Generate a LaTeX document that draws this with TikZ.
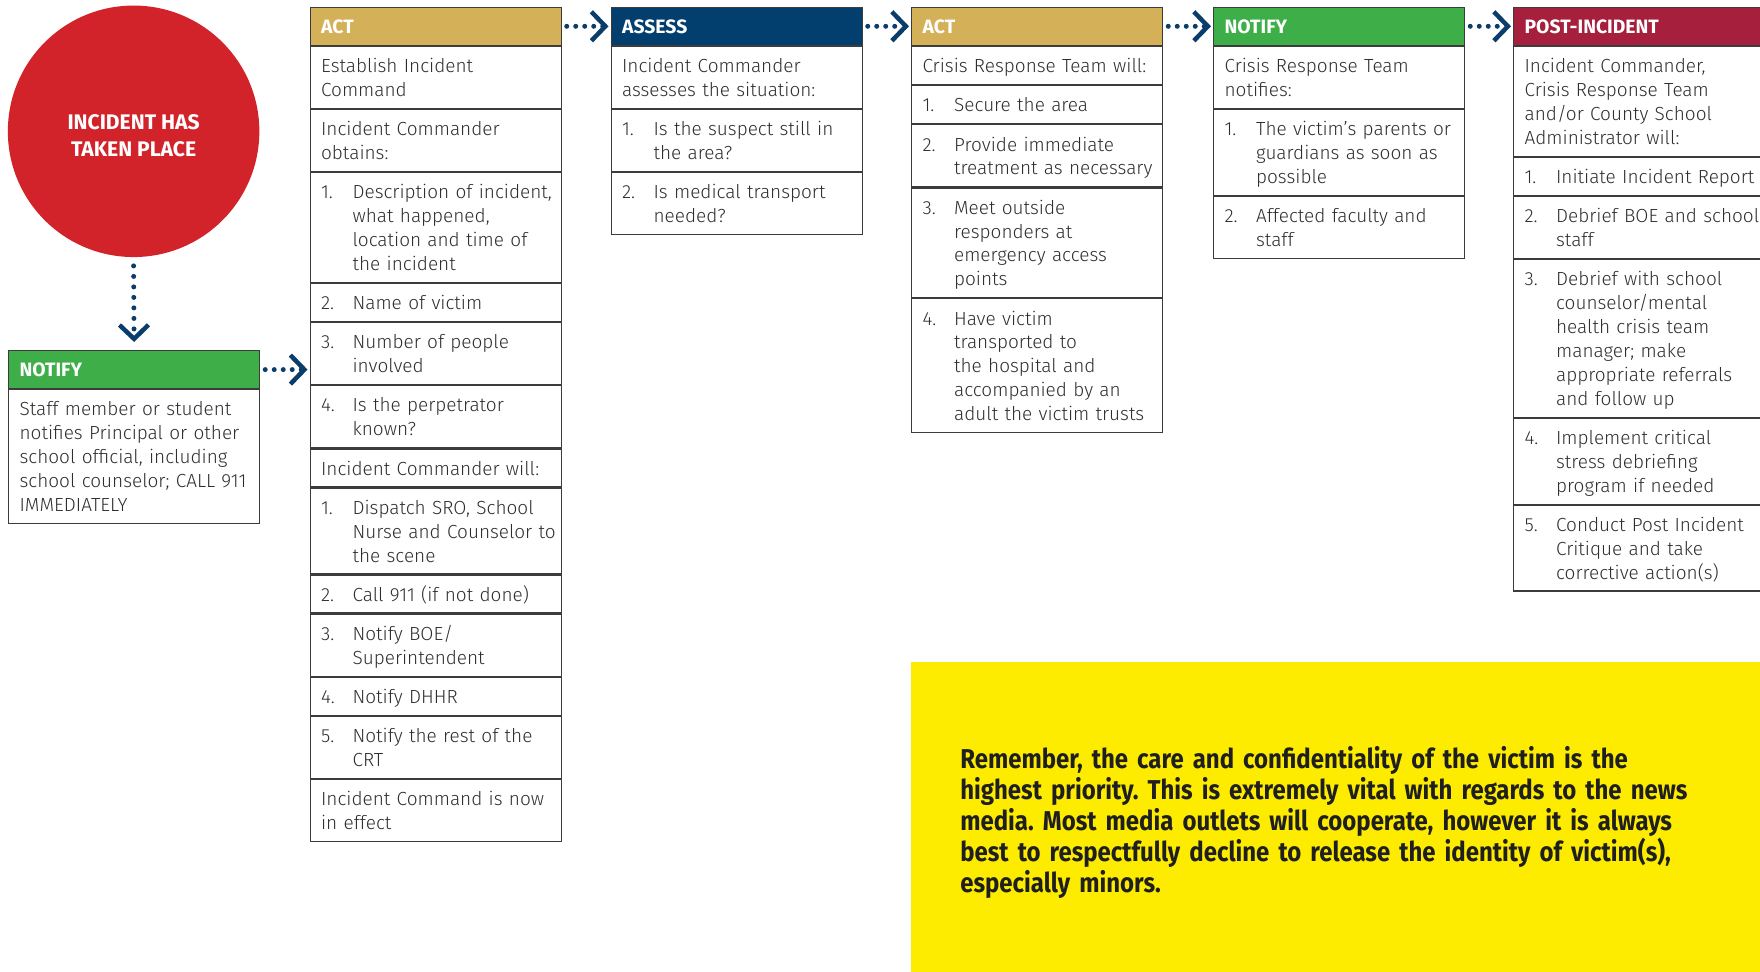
\documentclass[tikz,border=0pt]{standalone}
\usepackage{fontspec}
\setmainfont{Fira Sans}[UprightFont={* Light}, BoldFont={* Bold}]
\newfontfamily\notefont{Fira Sans}[FakeStretch=0.88]
\usetikzlibrary{arrows.meta,positioning}

\definecolor{actgold}{HTML}{D4B058}
\definecolor{assessblue}{HTML}{023F6E}
\definecolor{notifygreen}{HTML}{3EAE49}
\definecolor{postred}{HTML}{A6203E}
\definecolor{incidentred}{HTML}{D2232A}
\definecolor{noteyellow}{HTML}{FDEB00}
\definecolor{flownavy}{HTML}{0B3D6B}
\definecolor{rowgray}{HTML}{3C3C3C}
\definecolor{textgray}{HTML}{2E2E2E}

\newcommand{\rowstrut}{\rule[-0.2\baselineskip]{0pt}{\baselineskip}}
\newcommand{\numitem}[2]{\makebox[0.63cm][l]{#1}\parbox[t]{4.6cm}{\raggedright\rowstrut#2\rowstrut}}

\tikzset{
	stagerow/.style={draw=rowgray, line width=0.7pt, text width=4.58cm, inner xsep=0.22cm, inner ysep=4pt, align=left, text=textgray, font=\fontsize{10.8}{13.6}\selectfont, execute at begin node={\rightskip=-0.5cm plus 2em\rowstrut}, execute at end node=\rowstrut},
	stagehead/.style={stagerow, fill=#1, text=white, font=\fontsize{11}{13.6}\selectfont\bfseries},
	flowarrow/.style={draw=flownavy, line width=0.1cm, line cap=round, dash pattern=on 0pt off 0.18cm, -{Straight Barb[length=0.28cm, width=0.58cm, line width=0.09cm]}}
}

\begin{document}
\begin{tikzpicture}
	\useasboundingbox (0,0) rectangle (35.2,-19.42);

	\node[circle, fill=incidentred, minimum size=5.03cm, inner sep=0pt, text=white, align=center, font=\fontsize{12}{15}\selectfont\bfseries] at (2.672,-2.626) (incident) {\rule{0pt}{0.47cm}INCIDENT HAS\\TAKEN PLACE};

	\node[stagehead=notifygreen, anchor=north west] at (0.16,-7.0) (notify-a-head) {NOTIFY};
	\node[stagerow, below=0pt of notify-a-head] (notify-a-1) {Staff member or student\\notifies Principal or other\\school official, including\\school counselor; CALL 911\\IMMEDIATELY};

	\node[stagehead=actgold, anchor=north west] at (6.19,-0.134) (act-a-head) {ACT};
	\node[stagerow, below=0pt of act-a-head] (act-a-1) {Establish Incident\\Command};
	\node[stagerow, below=0pt of act-a-1] (act-a-2) {Incident Commander\\obtains:};
	\node[stagerow, below=0pt of act-a-2] (act-a-3) {\numitem{1.}{Description of incident,\\what happened,\\location and time of\\the incident}};
	\node[stagerow, below=0pt of act-a-3] (act-a-4) {\numitem{2.}{Name of victim}};
	\node[stagerow, below=0pt of act-a-4] (act-a-5) {\numitem{3.}{Number of people\\involved}};
	\node[stagerow, below=0pt of act-a-5] (act-a-6) {\numitem{4.}{Is the perpetrator\\known?}};
	\node[stagerow, below=0pt of act-a-6] (act-a-7) {Incident Commander will:};
	\node[stagerow, below=0pt of act-a-7] (act-a-8) {\numitem{1.}{Dispatch SRO, School\\Nurse and Counselor to\\the scene}};
	\node[stagerow, below=0pt of act-a-8] (act-a-9) {\numitem{2.}{Call 911 (if not done)}};
	\node[stagerow, below=0pt of act-a-9] (act-a-10) {\numitem{3.}{Notify BOE/\\Superintendent}};
	\node[stagerow, below=0pt of act-a-10] (act-a-11) {\numitem{4.}{Notify DHHR}};
	\node[stagerow, below=0pt of act-a-11] (act-a-12) {\numitem{5.}{Notify the rest of the\\CRT}};
	\node[stagerow, below=0pt of act-a-12] (act-a-13) {Incident Command is now\\in effect};

	\node[stagehead=assessblue, anchor=north west] at (12.21,-0.134) (assess-head) {ASSESS};
	\node[stagerow, below=0pt of assess-head] (assess-1) {Incident Commander\\assesses the situation:};
	\node[stagerow, below=0pt of assess-1] (assess-2) {\numitem{1.}{Is the suspect still in\\the area?}};
	\node[stagerow, below=0pt of assess-2] (assess-3) {\numitem{2.}{Is medical transport\\needed?}};

	\node[stagehead=actgold, anchor=north west] at (18.22,-0.134) (act-b-head) {ACT};
	\node[stagerow, below=0pt of act-b-head] (act-b-1) {Crisis Response Team will:};
	\node[stagerow, below=0pt of act-b-1] (act-b-2) {\numitem{1.}{Secure the area}};
	\node[stagerow, below=0pt of act-b-2] (act-b-3) {\numitem{2.}{Provide immediate\\treatment as necessary}};
	\node[stagerow, below=0pt of act-b-3] (act-b-4) {\numitem{3.}{Meet outside\\responders at\\emergency access\\points}};
	\node[stagerow, below=0pt of act-b-4] (act-b-5) {\numitem{4.}{Have victim\\transported to\\the hospital and\\accompanied by an\\adult the victim trusts}};

	\node[stagehead=notifygreen, anchor=north west] at (24.26,-0.134) (notify-b-head) {NOTIFY};
	\node[stagerow, below=0pt of notify-b-head] (notify-b-1) {Crisis Response Team\\notifies:};
	\node[stagerow, below=0pt of notify-b-1] (notify-b-2) {\numitem{1.}{The victim’s parents or\\guardians as soon as\\possible}};
	\node[stagerow, below=0pt of notify-b-2] (notify-b-3) {\numitem{2.}{Affected faculty and\\staff}};

	\node[stagehead=postred, anchor=north west] at (30.26,-0.134) (post-head) {POST-INCIDENT};
	\node[stagerow, below=0pt of post-head] (post-1) {Incident Commander,\\Crisis Response Team\\and/or County School\\Administrator will:};
	\node[stagerow, below=0pt of post-1] (post-2) {\numitem{1.}{Initiate Incident Report}};
	\node[stagerow, below=0pt of post-2] (post-3) {\numitem{2.}{Debrief BOE and school\\staff}};
	\node[stagerow, below=0pt of post-3] (post-4) {\numitem{3.}{Debrief with school\\counselor/mental\\health crisis team\\manager; make\\appropriate referrals\\and follow up}};
	\node[stagerow, below=0pt of post-4] (post-5) {\numitem{4.}{Implement critical\\stress debriefing\\program if needed}};
	\node[stagerow, below=0pt of post-5] (post-6) {\numitem{5.}{Conduct Post Incident\\Critique and take\\corrective action(s)}};

	\node[fill=noteyellow, anchor=north west, minimum height=6.4cm, text width=15.2cm, inner xsep=0.98cm, align=left, text=black!88, font=\notefont\fontsize{15.5}{17.6}\selectfont\bfseries\frenchspacing] at (18.22,-13.24) (note) {Remember, the care and confidentiality of the victim is the\\highest priority. This is extremely vital with regards to the news\\media. Most media outlets will cooperate, however it is always\\best to respectfully decline to release the identity of victim(s),\\especially minors.};

	\draw[flowarrow, dash pattern=on 0pt off 0.21cm] ([yshift=-1.7mm]incident.south) -- ([yshift=1.6mm]notify-a-head.north);
	\draw[flowarrow] ([xshift=1mm]notify-a-head.east) -- ([xshift=-0.4mm]notify-a-head.east -| act-a-head.west);
	\draw[flowarrow] ([xshift=1mm]act-a-head.east) -- ([xshift=-0.4mm]assess-head.west);
	\draw[flowarrow] ([xshift=1mm]assess-head.east) -- ([xshift=-0.4mm]act-b-head.west);
	\draw[flowarrow] ([xshift=1mm]act-b-head.east) -- ([xshift=-0.4mm]notify-b-head.west);
	\draw[flowarrow] ([xshift=1mm]notify-b-head.east) -- ([xshift=-0.4mm]post-head.west);
\end{tikzpicture}
\end{document}
